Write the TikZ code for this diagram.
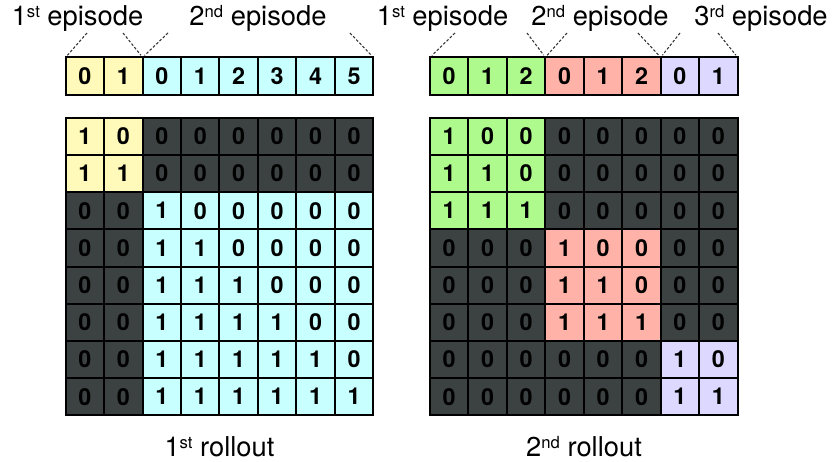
\documentclass[tikz,border=0pt]{standalone}
\usepackage{fontspec}
\setmainfont{TeX Gyre Heros}

\definecolor{epyellow}{RGB}{255,250,185}
\definecolor{epcyan}{RGB}{200,255,255}
\definecolor{epgreen}{RGB}{175,250,140}
\definecolor{epred}{RGB}{255,178,168}
\definecolor{eppurple}{RGB}{221,216,255}
\definecolor{maskgray}{RGB}{60,66,65}

\newcommand{\ordsup}[1]{\raisebox{0.55ex}{\fontsize{12.5}{12.5}\selectfont #1}}

\begin{document}
\begin{tikzpicture}[
x=0.75pt, y=-0.75pt,
cell/.style={
draw=black,
line width=1.5pt,
minimum width=28.84pt,
minimum height=27.9pt,
inner sep=0pt,
outer sep=0pt,
font=\fontsize{17.5}{17.5}\selectfont\bfseries
},
label/.style={
font=\fontsize{20.5}{23}\selectfont,
inner sep=0pt,
anchor=base
},
guide/.style={dash pattern=on 2pt off 1.4pt, line width=0.8pt, black!80, shorten >=2pt}
]

% =====================================================
% Styles
% =====================================================

\tikzstyle{masked} = [fill=maskgray, text=black]
\tikzstyle{lep0} = [fill=epyellow]
\tikzstyle{lep1} = [fill=epcyan]
\tikzstyle{rep0} = [fill=epgreen]
\tikzstyle{rep1} = [fill=epred]
\tikzstyle{rep2} = [fill=eppurple]

\useasboundingbox (0,0) rectangle (837,461);

% =====================================================
% 1st rollout
% =====================================================

\foreach \j in {0,...,7} {
  \pgfmathtruncatemacro{\ej}{(\j>1)}
  \pgfmathtruncatemacro{\pos}{\j-2*\ej}
  \node (lt-\j) [cell, lep\ej] at (65.7+38.45*\j+19.2, 75.9) {\pos};
}

\foreach \i in {0,...,7} {
  \foreach \j in {0,...,7} {
    \pgfmathtruncatemacro{\ei}{(\i>1)}
    \pgfmathtruncatemacro{\ej}{(\j>1)}
    \pgfmathtruncatemacro{\val}{(\ei==\ej)&&(\j<=\i)}
    \ifnum\ei=\ej \def\sty{lep\ei}\else\def\sty{masked}\fi
    \node (l-\i-\j) [cell, \sty] at (65.7+38.45*\j+19.2, 117.7+37.2*\i+18.6) {\val};
  }
}

% =====================================================
% 2nd rollout
% =====================================================

\foreach \j in {0,...,7} {
  \pgfmathtruncatemacro{\ej}{(\j>2)+(\j>5)}
  \pgfmathtruncatemacro{\pos}{\j-3*\ej}
  \node (rt-\j) [cell, rep\ej] at (430+38.46*\j+19.2, 75.9) {\pos};
}

\foreach \i in {0,...,7} {
  \foreach \j in {0,...,7} {
    \pgfmathtruncatemacro{\ei}{(\i>2)+(\i>5)}
    \pgfmathtruncatemacro{\ej}{(\j>2)+(\j>5)}
    \pgfmathtruncatemacro{\val}{(\ei==\ej)&&(\j<=\i)}
    \ifnum\ei=\ej \def\sty{rep\ei}\else\def\sty{masked}\fi
    \node (r-\i-\j) [cell, \sty] at (430+38.46*\j+19.2, 117.7+37.2*\i+18.6) {\val};
  }
}

% =====================================================
% Labels
% =====================================================

\node (lep1) [label] at (77.5,25) {1\ordsup{st} episode};
\node (lep2) [label] at (258,25) {2\ordsup{nd} episode};
\node (rep1) [label] at (442.5,25) {1\ordsup{st} episode};
\node (rep2) [label] at (600,25) {2\ordsup{nd} episode};
\node (rep3) [label] at (761,25) {3\ordsup{rd} episode};

\node (lroll) [label] at (219.5,456) {1\ordsup{st} rollout};
\node (rroll) [label] at (584,456) {2\ordsup{nd} rollout};

% =====================================================
% Episode guides
% =====================================================

\coordinate (lg1) at (87,33);
\coordinate (lg2) at (123,33);
\coordinate (lg3) at (168,33);
\coordinate (lg4) at (350,33);
\coordinate (rg1) at (455,33);
\coordinate (rg2) at (527,33);
\coordinate (rg3) at (567,33);
\coordinate (rg4) at (638,33);
\coordinate (rg5) at (680,33);
\coordinate (rg6) at (718,33);

\draw [guide] (lg1) -- (lt-0.north west);
\draw [guide] (lg2) -- (lt-1.north east);
\draw [guide] (lg3) -- (lt-2.north west);
\draw [guide] (lg4) -- (lt-7.north east);

\draw [guide] (rg1) -- (rt-0.north west);
\draw [guide] (rg2) -- (rt-2.north east);
\draw [guide] (rg3) -- (rt-3.north west);
\draw [guide] (rg4) -- (rt-5.north east);
\draw [guide] (rg5) -- (rt-6.north west);
\draw [guide] (rg6) -- (rt-7.north east);

\end{tikzpicture}
\end{document}
